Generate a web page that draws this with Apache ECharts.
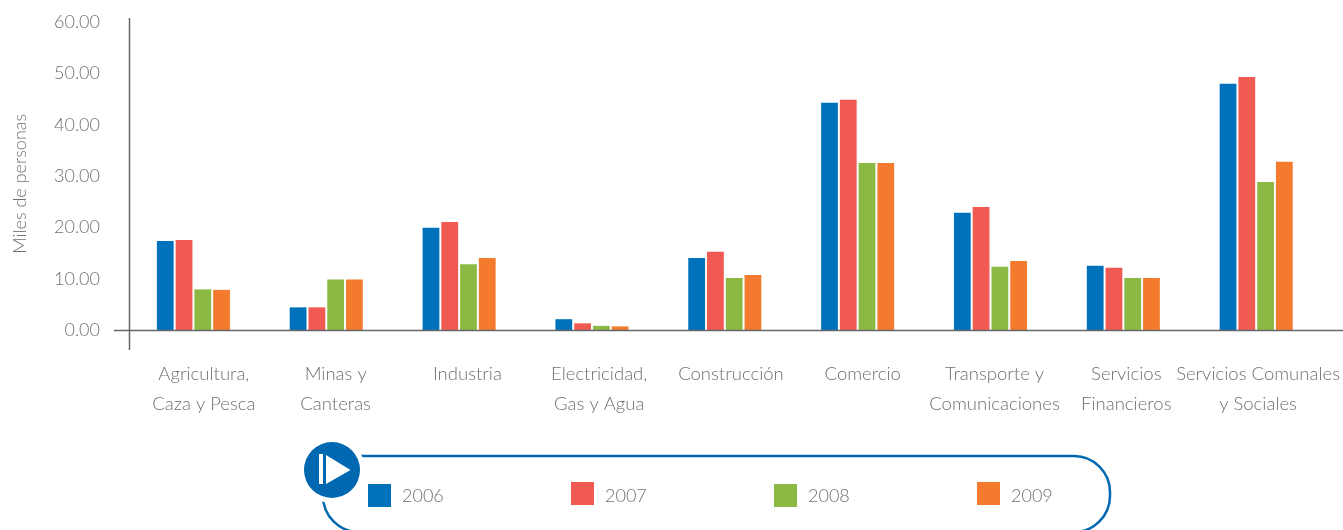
<!DOCTYPE html>
<html>
<head>
<meta charset="utf-8">
<title>Miles de personas</title>
<style>
	html, body { margin: 0; padding: 0; background: #fff; }
	#chart { width: 1343px; height: 530px; }
</style>
<script src="https://cdn.jsdelivr.net/npm/echarts@6/dist/echarts.min.js"></script>
</head>
<body>
<div id="chart"></div>
<script>
var categories = ['Agricultura,\nCaza y Pesca', 'Minas y\nCanteras', 'Industria', 'Electricidad,\nGas y Agua', 'Construcción', 'Comercio', 'Transporte y\nComunicaciones', 'Servicios\nFinancieros', 'Servicios Comunales\ny Sociales'];
var years = ['2006', '2007', '2008', '2009'];
var values2006 = [17.4, 4.5, 20.0, 2.2, 14.1, 44.3, 22.9, 12.6, 48.0];
var values2007 = [17.6, 4.5, 21.1, 1.4, 15.3, 44.9, 24.0, 12.2, 49.3];
var values2008 = [8.0, 9.9, 12.9, 0.9, 10.2, 32.6, 12.4, 10.2, 28.9];
var values2009 = [7.9, 9.9, 14.1, 0.8, 10.8, 32.6, 13.5, 10.2, 32.8];
var colors = ['#0072bc', '#f15a52', '#8cb944', '#f47b2e'];

var fontName = 'Lato, "Open Sans", sans-serif';
var textColor = '#6f7073';
var lineColor = '#66676a';
var blue = '#0067b1';

function makeLegend(name, left, top, textPad) {
	return {
		data: [name],
		left: left,
		top: top,
		padding: 0,
		itemWidth: 23,
		itemHeight: 23,
		icon: 'rect',
		selectedMode: false,
		formatter: '{y|{name}}',
		textStyle: {
			rich: {
				y: { color: textColor, fontSize: 18, fontFamily: fontName, fontWeight: 300, padding: [textPad, 0, 0, 6] }
			}
		}
	};
}

function makeBar(name, values) {
	return {
		name: name,
		type: 'bar',
		barGap: '11.8%',
		barCategoryGap: '45%',
		data: values
	};
}

var myChart = echarts.init(document.getElementById('chart'));
myChart.setOption({
	animation: false,
	color: colors,
	legend: [
		makeLegend(years[0], 368, 484, 2),
		makeLegend(years[1], 571, 482, 6),
		makeLegend(years[2], 774, 484, 2),
		makeLegend(years[3], 977, 482, 6)
	],
	grid: [
		{ left: 127, right: 20.4, top: 22, bottom: 199.5 },
		// las etiquetas del original no quedan centradas bajo las barras
		{ left: 138, right: 19, top: 22, bottom: 199.5 }
	],
	xAxis: [{
		type: 'category',
		data: categories,
		axisLine: { show: false },
		axisTick: { show: false },
		axisLabel: { show: false }
	}, {
		type: 'category',
		gridIndex: 1,
		data: categories,
		axisLine: { show: false },
		axisTick: { show: false },
		axisLabel: {
			interval: 0,
			margin: 29,
			color: textColor,
			fontSize: 18.5,
			lineHeight: 30,
			fontFamily: fontName,
			fontWeight: 300
		}
	}],
	yAxis: [{
		type: 'value',
		min: 0,
		max: 60,
		interval: 10,
		name: 'Miles de personas',
		nameLocation: 'middle',
		nameGap: 98,
		nameTextStyle: { color: textColor, fontSize: 18, fontFamily: fontName, fontWeight: 300, padding: [0, 0, 0, -15] },
		axisLine: { show: false },
		axisTick: { show: false },
		splitLine: { show: false },
		axisLabel: {
			margin: 27,
			color: textColor,
			fontSize: 18,
			fontFamily: fontName,
			fontWeight: 300,
			formatter: function (v) { return v.toFixed(2); }
		}
	}, {
		type: 'value',
		gridIndex: 1,
		min: 0,
		max: 60,
		show: false
	}],
	series: [
		makeBar(years[0], values2006),
		makeBar(years[1], values2007),
		makeBar(years[2], values2008),
		makeBar(years[3], values2009)
	],
	graphic: [
		// ejes: se salen de la rejilla, por eso van aparte
		{ type: 'line', z: 5, shape: { x1: 114, y1: 330.5, x2: 1343, y2: 330.5 }, style: { stroke: lineColor, lineWidth: 1.5 } },
		{ type: 'line', z: 5, shape: { x1: 129.5, y1: 18, x2: 129.5, y2: 350 }, style: { stroke: lineColor, lineWidth: 1.5 } },
		// marco de la leyenda
		{ type: 'rect', z: 1, shape: { x: 323, y: 456, width: 787, height: 76, r: 36 }, style: { fill: 'none', stroke: blue, lineWidth: 2.5 } },
		{ type: 'circle', z: 2, shape: { cx: 332, cy: 470, r: 33 }, style: { fill: '#fff' } },
		{ type: 'circle', z: 3, shape: { cx: 332, cy: 470, r: 28 }, style: { fill: blue } },
		{ type: 'rect', z: 4, shape: { x: 319, y: 454, width: 4, height: 30 }, style: { fill: '#fff' } },
		{ type: 'polygon', z: 4, shape: { points: [[326, 455], [350.5, 470], [326, 484]] }, style: { fill: '#fff' } }
	]
});
window.addEventListener('resize', function () {
	myChart.resize();
});
</script>
</body>
</html>
